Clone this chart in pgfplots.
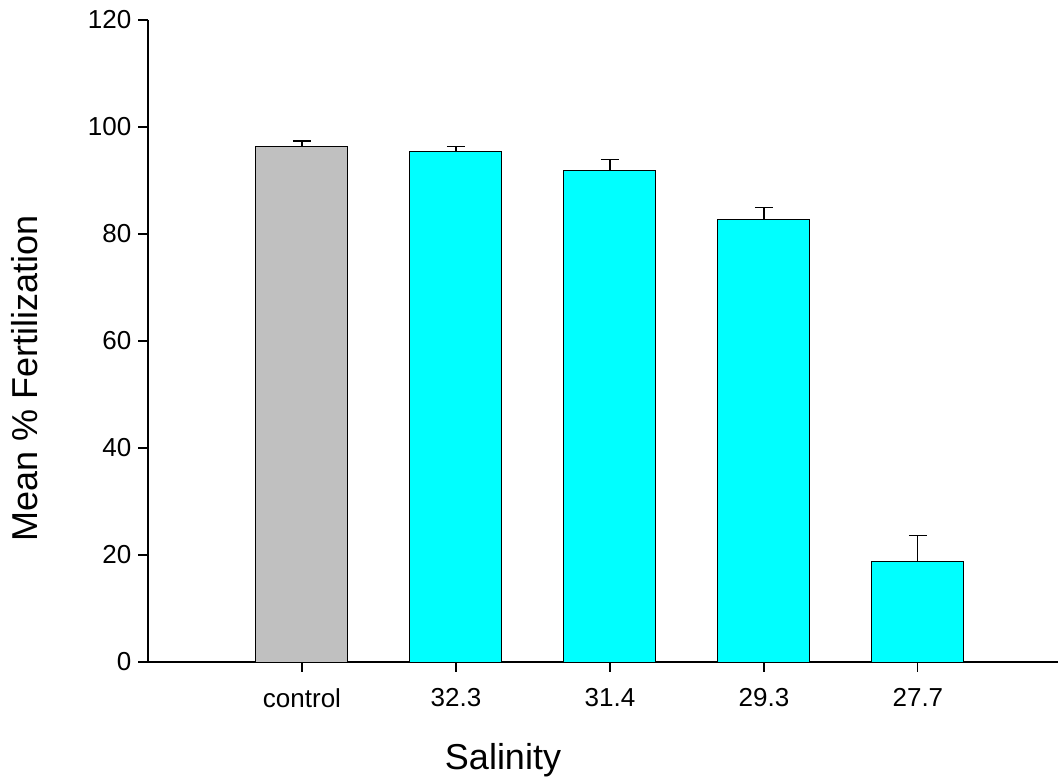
\documentclass[border=0pt]{standalone}
\usepackage{pgfplots}
\pgfplotsset{compat=1.18}
\usepackage{fontspec}
\setmainfont{Liberation Sans}
\definecolor{barcyan}{HTML}{00FFFF}
\definecolor{bargray}{HTML}{C0C0C0}
\begin{document}
\begin{tikzpicture}
\begin{axis}[
  scale only axis,
  width=455pt, height=321pt,
  xmin=0, xmax=5.91,
  ymin=0, ymax=120,
  axis x line*=bottom, axis y line*=left,
  axis line style={-},
  x axis line style={line width=1.1pt},
  y axis line style={line width=0.6pt},
  xtick={1,2,3,4,5},
  xticklabels={control,32.3,31.4,29.3,27.7},
  ytick={0,20,40,60,80,100,120},
  tick align=outside,
  major tick length=4.8pt,
  tick style={black, line width=0.6pt},
  /pgf/number format/assume math mode=true,
  ticklabel style={font=\fontsize{13pt}{15pt}\selectfont},
  xticklabel style={yshift=-5pt},
  xlabel={Salinity},
  ylabel={Mean \% Fertilization},
  label style={font=\fontsize{18pt}{21pt}\selectfont},
  xlabel style={yshift=-11pt, xshift=-50pt},
  ylabel style={yshift=18pt, xshift=-18.5pt},
  clip=false,
]
\addplot[ybar, bar width=46pt, fill=bargray, draw=black, line width=0.5pt,
  error bars/.cd, y dir=plus, y explicit,
  error bar style={line width=0.6pt, black},
  error mark options={rotate=90, mark size=4.5pt, line width=0.6pt, black}]
  coordinates {(1,96.3) +- (0,1.1)};
\addplot[ybar, bar width=46pt, fill=barcyan, draw=black, line width=0.5pt,
  error bars/.cd, y dir=plus, y explicit,
  error bar style={line width=0.6pt, black},
  error mark options={rotate=90, mark size=4.5pt, line width=0.6pt, black}]
  coordinates {(2,95.5) +- (0,0.9) (3,91.8) +- (0,2.2) (4,82.8) +- (0,2.2) (5,18.7) +- (0,4.9)};
\end{axis}
\pgfresetboundingbox
\path (-74pt,-58pt) rectangle (455pt,331pt);
\end{tikzpicture}
\end{document}
